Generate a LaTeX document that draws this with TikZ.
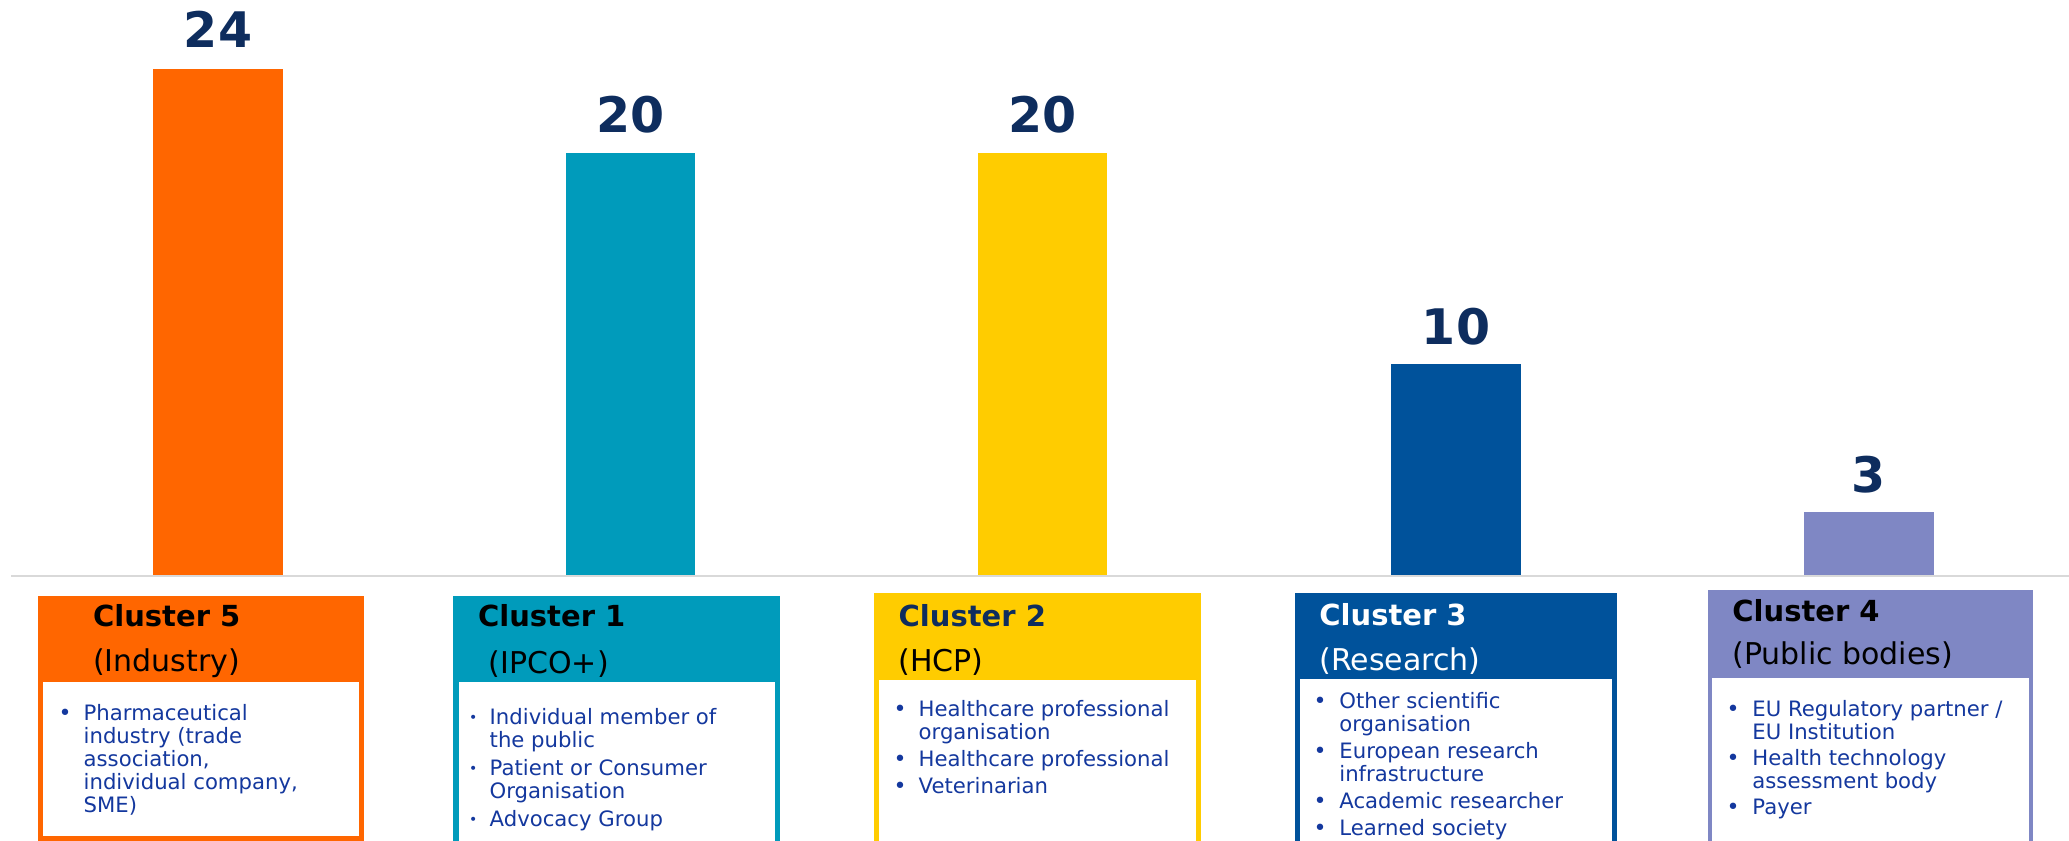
\documentclass[tikz,border=0pt]{standalone}
\usepackage{fontspec}
\setmainfont{DejaVu Sans}
\definecolor{indorange}{HTML}{FF6600}
\definecolor{ipcoteal}{HTML}{009BBB}
\definecolor{hcpyellow}{HTML}{FFCC00}
\definecolor{resblue}{HTML}{00529B}
\definecolor{pubpurple}{HTML}{7F87C4}
\definecolor{numnavy}{HTML}{0E2D5E}
\definecolor{itemblue}{HTML}{14389E}
\definecolor{axisgray}{HTML}{D9D9D9}
\newcommand{\itemlines}[1]{\begin{tabular}[t]{@{}l@{}}#1\end{tabular}}
\begin{document}
\begin{tikzpicture}[x=0.5pt,y=-0.5pt,
    num/.style={font=\fontsize{24.5}{29}\selectfont\bfseries,text=numnavy,anchor=base,inner sep=0pt},
    ctitle/.style={font=\fontsize{14.5}{17}\selectfont\bfseries,anchor=base west,inner sep=0pt},
    csub/.style={font=\fontsize{15}{18}\selectfont,anchor=base west,inner sep=0pt},
    item/.style={font=\fontsize{10.6}{11.5}\selectfont,text=itemblue,anchor=base west,inner sep=0pt},
    dot/.style={font=\fontsize{11}{11.5}\selectfont,text=itemblue,anchor=base,inner sep=0pt},
    smalldot/.style={font=\fontsize{7}{8}\selectfont,text=itemblue,anchor=base,inner sep=0pt,yshift=1pt}]
  \useasboundingbox[fill=white] (0,0) rectangle (2069,841);

  \fill[indorange] (153,68.6) rectangle (283,575);
  \fill[ipcoteal] (566,153) rectangle (695,575);
  \fill[hcpyellow] (978,153) rectangle (1107,575);
  \fill[resblue] (1391,364) rectangle (1521,575);
  \fill[pubpurple] (1804,512) rectangle (1934,575);
  \draw[axisgray,line width=1pt] (11,576) -- (2069,576);
  \draw
    (218,47) node[num] (n5){24}
    (630.5,132.5) node[num] (n1){20}
    (1042.5,132.5) node[num] (n2){20}
    (1456,344) node[num] (n3){10}
    (1869,492) node[num] (n4){3};

  \fill[indorange] (37.7,596) rectangle (364,841);
  \fill[white] (42.7,682) rectangle (359,836);
  \node[ctitle] (t5) at (92.7,626.7) {Cluster 5};
  \node[csub] (s5) at (92.7,671) {(Industry)};
  \node[dot] (d5a) at (65,720) {•};
  \node[item] (i5a) at (83.3,720) {\itemlines{Pharmaceutical\\industry (trade\\association,\\individual company,\\SME)}};

  \fill[ipcoteal] (453.3,596) rectangle (780,841);
  \fill[white] (459,682) rectangle (775,841);
  \node[ctitle] (t1) at (477.7,626.7) {Cluster 1};
  \node[csub] (s1) at (488.3,673) {(IPCO+)};
  \node[smalldot] (d1a) at (473.3,724) {•};
  \node[item] (i1a) at (489.3,724) {\itemlines{Individual member of\\the public}};
  \node[smalldot] (d1b) at (473.3,775) {•};
  \node[item] (i1b) at (489.3,775) {\itemlines{Patient or Consumer\\Organisation}};
  \node[smalldot] (d1c) at (473.3,826) {•};
  \node[item] (i1c) at (489.3,826) {Advocacy Group};

  \fill[hcpyellow] (874.3,592.7) rectangle (1200.7,841);
  \fill[white] (879.3,680) rectangle (1195.7,841);
  \node[ctitle,text=numnavy] (t2) at (898.3,626.7) {Cluster 2};
  \node[csub] (s2) at (898.3,671.7) {(HCP)};
  \node[dot] (d2a) at (900,716.7) {•};
  \node[item] (i2a) at (918.3,716.7) {\itemlines{Healthcare professional\\organisation}};
  \node[dot] (d2b) at (900,766.7) {•};
  \node[item] (i2b) at (918.3,766.7) {Healthcare professional};
  \node[dot] (d2c) at (900,793.3) {•};
  \node[item] (i2c) at (918.3,793.3) {Veterinarian};

  \fill[resblue] (1295,592.7) rectangle (1616.7,841);
  \fill[white] (1300,679.3) rectangle (1611.7,841);
  \node[ctitle,text=white] (t3) at (1319,625) {Cluster 3};
  \node[csub,text=white] (s3) at (1319,670) {(Research)};
  \node[dot] (d3a) at (1320,708.3) {•};
  \node[item] (i3a) at (1339,708.3) {\itemlines{Other scientific\\organisation}};
  \node[dot] (d3b) at (1320,758.3) {•};
  \node[item] (i3b) at (1339,758.3) {\itemlines{European research\\infrastructure}};
  \node[dot] (d3c) at (1320,808.3) {•};
  \node[item] (i3c) at (1339,808.3) {Academic researcher};
  \node[dot] (d3d) at (1320,835) {•};
  \node[item] (i3d) at (1339,835) {Learned society};

  \fill[pubpurple] (1707.7,590) rectangle (2033,841);
  \fill[white] (1712,678) rectangle (2029,841);
  \node[ctitle] (t4) at (1732,621) {Cluster 4};
  \node[csub] (s4) at (1732,664) {(Public bodies)};
  \node[dot] (d4a) at (1733,716) {•};
  \node[item] (i4a) at (1752,716) {\itemlines{EU Regulatory partner /\\EU Institution}};
  \node[dot] (d4b) at (1733,765) {•};
  \node[item] (i4b) at (1752,765) {\itemlines{Health technology\\assessment body}};
  \node[dot] (d4c) at (1733,814) {•};
  \node[item] (i4c) at (1752,814) {Payer};
\end{tikzpicture}
\end{document}
